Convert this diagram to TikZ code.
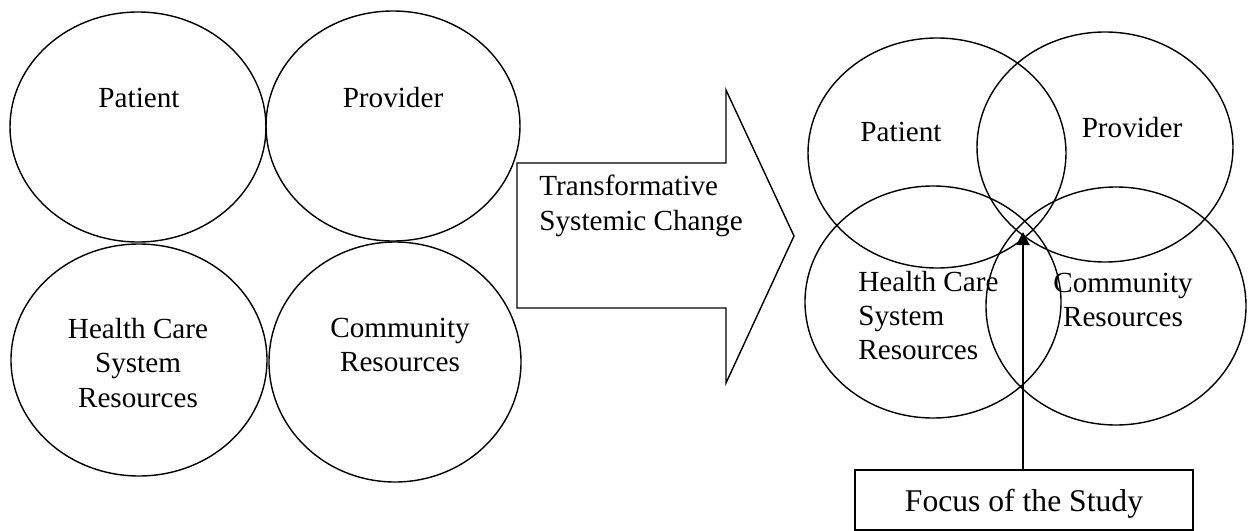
\documentclass[tikz,border=0pt]{standalone}
\usepackage{fontspec}
\setmainfont{Liberation Serif}
\usetikzlibrary{shapes.geometric}
\usetikzlibrary{arrows.meta}
\usetikzlibrary{calc}

\tikzset{
  circ/.style={draw, ellipse, line width=0.8pt, inner sep=0pt},
  lbl/.style={font=\fontsize{16.6}{19.5}\selectfont, inner sep=0pt}
}

\begin{document}
\begin{tikzpicture}[scale=1.0]
%\draw[step=1cm, very thin, red] (0cm,-11cm) grid (25cm,0cm);
\useasboundingbox (0cm,0cm) rectangle (24.96cm,-10.62cm);

% before
\node[circ, minimum width=5.12cm, minimum height=4.6cm] (patient1) at (2.76cm,-2.54cm) {};
\node[circ, minimum width=5.08cm, minimum height=4.6cm] (provider1) at (7.86cm,-2.52cm) {};
\node[circ, minimum width=5.12cm, minimum height=4.64cm] (healthcare1) at (2.78cm,-7.2cm) {};
\node[circ, minimum width=5.04cm, minimum height=4.8cm] (community1) at (7.9cm,-7.24cm) {};

\node[lbl] (patienttext1) at ($ (patient1) + (0.02cm,0.58cm) $) {Patient};
\node[lbl] (providertext1) at ($ (provider1) + (0cm,0.57cm) $) {Provider};
\node[lbl, align=center] (healthcaretext1) at ($ (healthcare1) + (-0.02cm,-0.06cm) $) {Health Care\\System\\Resources};
\node[lbl, align=center] (communitytext1) at ($ (community1) + (0.1cm,0.34cm) $) {Community\\Resources};

% change arrow
\draw[line width=0.8pt] (10.34cm,-3.26cm) -- (10.34cm+4.18cm,-3.26cm) -- (10.34cm+4.18cm,-1.8cm) -- (15.88cm,-4.72cm) -- (10.34cm+4.18cm,-7.66cm) -- (10.34cm+4.18cm,-6.16cm) -- (10.34cm,-6.16cm) -- cycle;
\node[lbl, anchor=west, align=left] (changetext) at (10.78cm,-4.115cm) {Transformative\\Systemic Change};

% after
\node[circ, minimum width=5.16cm, minimum height=4.6cm] (patient2) at (18.74cm,-3.06cm) {};
\node[circ, minimum width=5.12cm, minimum height=4.6cm] (provider2) at (22.1cm,-2.94cm) {};
\node[circ, minimum width=5.12cm, minimum height=4.64cm] (healthcare2) at (18.66cm,-6.04cm) {};
\node[circ, minimum width=5.2cm, minimum height=4.76cm] (community2) at (22.32cm,-6.12cm) {};

\node[lbl] (patienttext2) at ($ (patient2) + (-0.72cm,0.415cm) $) {Patient};
\node[lbl] (providertext2) at ($ (provider2) + (0.54cm,0.395cm) $) {Provider};
\node[lbl, anchor=west, align=left] (healthcaretext2) at ($ (healthcare2) + (-1.5cm,-0.275cm) $) {Health Care\\System\\Resources};
\node[lbl, align=center] (communitytext2) at ($ (community2) + (0.14cm,0.125cm) $) {Community\\Resources};

% focus
\node[draw, rectangle, line width=1.1pt, minimum width=6.76cm, minimum height=1.2cm, text depth=0pt, font=\fontsize{18}{21}\selectfont] (focus) at (20.48cm,-10cm) {Focus of the Study};
\coordinate (focuspoint) at (20.46cm,-4.64cm);
\draw[-{Triangle[length=0.26cm,width=0.26cm]}, line width=1.1pt] (focus.north -| focuspoint) -- (focuspoint);
\end{tikzpicture}
\end{document}
